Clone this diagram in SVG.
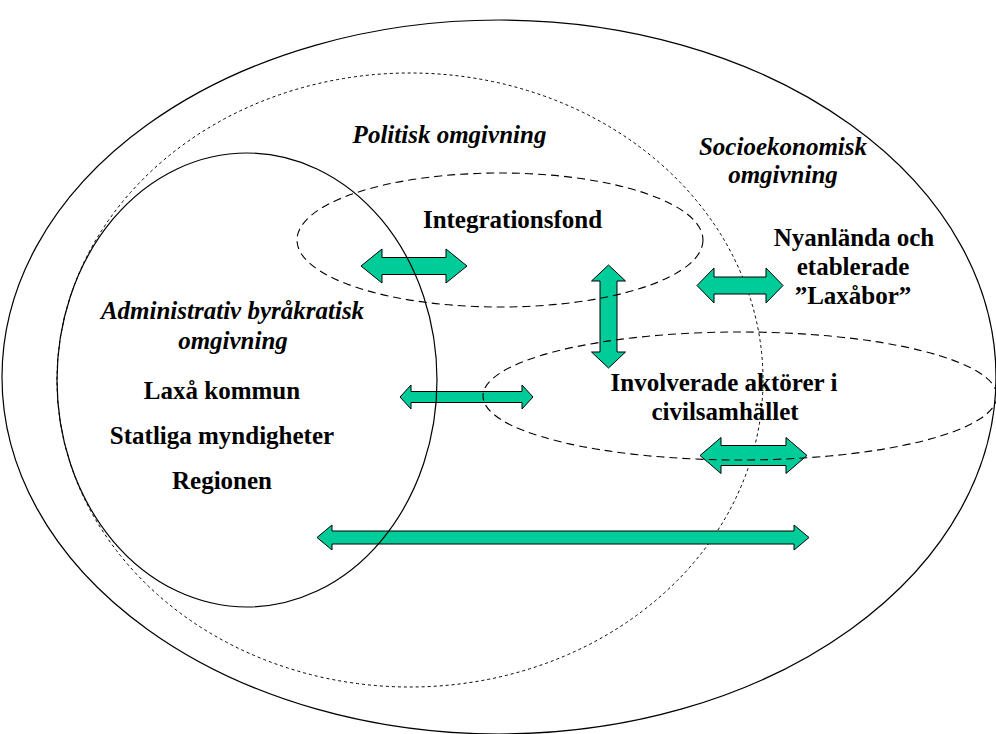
<svg xmlns="http://www.w3.org/2000/svg" width="996" height="734" viewBox="0 0 996 734">
<style>
.bg{fill:#ffffff}
.sol{fill:none;stroke:#000;stroke-width:1.2}
.dot{fill:none;stroke:#000;stroke-width:1;stroke-dasharray:3 3}
.dash{fill:none;stroke:#000;stroke-width:1.1;stroke-dasharray:8 5}
.arr{fill:#00CC99;stroke:#000;stroke-width:1;stroke-linejoin:miter}
.t{font-family:"Liberation Serif","Times New Roman",serif;font-size:25px;font-weight:bold;fill:#000;text-anchor:middle}
.i{font-style:italic}
</style>
<rect class="bg" x="0" y="0" width="996" height="734"/>
<g id="politisk">
<ellipse class="dot" cx="410" cy="380" rx="353" ry="307"/>
<text class="t i" x="449.5" y="143">Politisk omgivning</text>
</g>
<g id="connectors">
<polygon class="arr" points="361,266 382,249 382,257.5 446,257.5 446,249 467,266 446,283 446,274.5 382,274.5 382,283"/>
<polygon class="arr" points="697,285.5 714,268 714,277 766,277 766,268 783,285.5 766,303 766,294 714,294 714,303"/>
<polygon class="arr" points="608.5,265 625.5,281 617,281 617,352 625.5,352 608.5,368 591.5,352 600,352 600,281 591.5,281"/>
<polygon class="arr" points="400,397 411,385 411,391.5 522,391.5 522,385 533,397 522,409 522,402.5 411,402.5 411,409"/>
<polygon class="arr" points="700,455.5 721,437.5 721,445.5 786,445.5 786,437.5 807,455.5 786,473.5 786,465.5 721,465.5 721,473.5"/>
<polygon class="arr" points="317,537.5 332,525 332,531 794,531 794,525 809,537.5 794,550 794,544 332,544 332,550"/>
</g>
<g id="socioekonomisk">
<ellipse class="sol" cx="499" cy="377" rx="497" ry="357"/>
<text class="t i" x="783" y="155">Socioekonomisk</text>
<text class="t i" x="783" y="183">omgivning</text>
</g>
<g id="administrativ">
<ellipse class="sol" cx="247" cy="380" rx="190" ry="227"/>
<text class="t i" x="232.5" y="319">Administrativ byråkratisk</text>
<text class="t i" x="233" y="349">omgivning</text>
<text class="t" x="222" y="399">Laxå kommun</text>
<text class="t" x="222" y="444">Statliga myndigheter</text>
<text class="t" x="222" y="489">Regionen</text>
</g>
<g id="integrationsfond">
<ellipse class="dash" cx="500" cy="240" rx="203" ry="67"/>
<text class="t" x="512.5" y="228">Integrationsfond</text>
</g>
<g id="civilsamhallet">
<ellipse class="dash" cx="740" cy="396" rx="257" ry="64"/>
<text class="t" x="724" y="391">Involverade aktörer i</text>
<text class="t" x="725" y="420">civilsamhället</text>
</g>
<g id="nyanlanda">
<text class="t" x="854" y="246">Nyanlända och</text>
<text class="t" x="853" y="275">etablerade</text>
<text class="t" x="853" y="304">”Laxåbor”</text>
</g>
</svg>
